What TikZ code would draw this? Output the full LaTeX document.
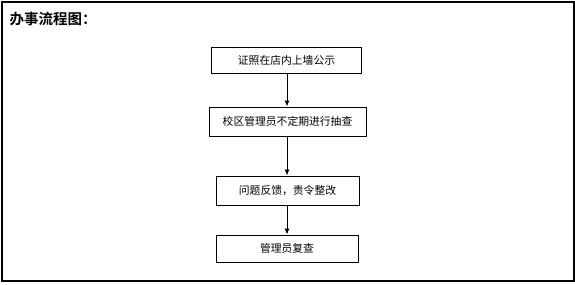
\documentclass[tikz,border=0pt]{standalone}
\usepackage{fontspec}
\newfontfamily\cjk{Noto Sans CJK SC}
\newfontfamily\cjkb{Noto Sans CJK SC Bold}
\usetikzlibrary{arrows.meta}
\begin{document}
\begin{tikzpicture}[x=1pt,y=-1pt,
  stepbox/.style={draw=black,line width=1pt,inner sep=0pt,font=\cjk\fontsize{10.8}{12}\selectfont},
  conn/.style={draw=black,line width=0.9pt,-{Latex[length=6pt,width=5pt]}}]
\useasboundingbox (0,0) rectangle (575,284);
\draw[line width=1.2pt] (2,2) rectangle (574,281);
\node[anchor=west,font=\cjkb\fontsize{14.5}{16}\selectfont] (title) at (6,19) {办事流程图：};
\node[stepbox,minimum width=150pt,minimum height=26pt] (b1) at (286.5,60) {证照在店内上墙公示};
\node[stepbox,minimum width=157pt,minimum height=29pt] (b2) at (287.5,121.5) {校区管理员不定期进行抽查};
\node[stepbox,minimum width=143pt,minimum height=29pt] (b3) at (287.5,190.5) {问题反馈，责令整改};
\node[stepbox,minimum width=142pt,minimum height=27pt] (b4) at (287,248.5) {管理员复查};
\draw[conn] (b1.south -| 287,0) -- (b2.north -| 287,0);
\draw[conn] (b2.south -| 287,0) -- (b3.north -| 287,0);
\draw[conn] (b3.south -| 287,0) -- (b4.north -| 287,0);
\end{tikzpicture}
\end{document}
